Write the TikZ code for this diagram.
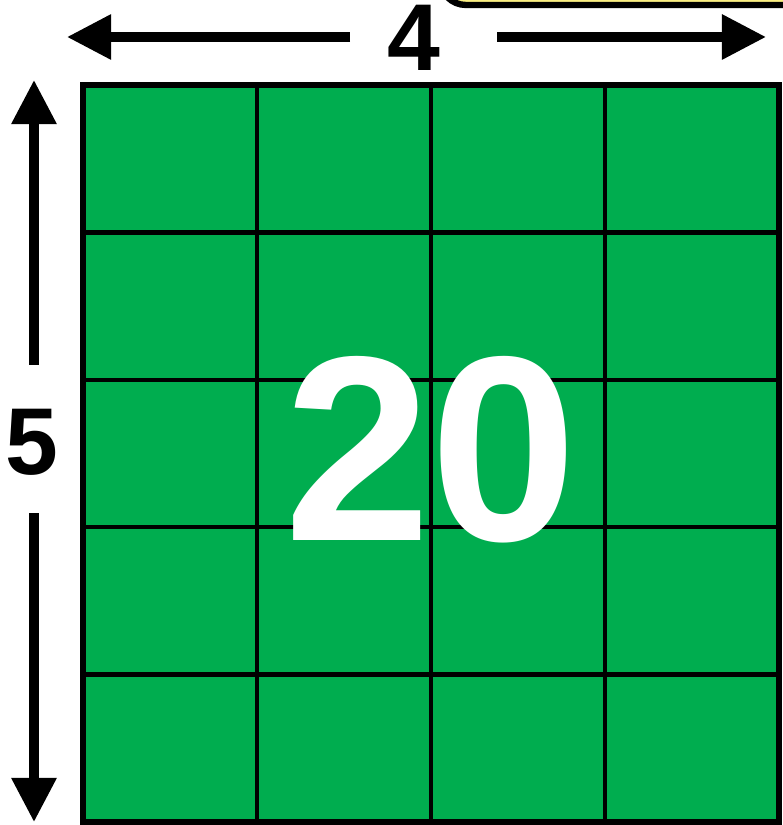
\documentclass[tikz,border=0pt]{standalone}
\usepackage{fontspec}
\setmainfont{Liberation Sans}
\usetikzlibrary{arrows.meta}
\definecolor{gridgreen}{RGB}{0,173,79}
\definecolor{notepale}{RGB}{250,238,130}
\tikzset{
  dimarrow/.style={line width=2.6pt,-{Triangle[length=0.44cm,width=0.43cm]}},
  dimlabel/.style={font=\fontsize{27}{27}\selectfont\bfseries,inner sep=0pt},
  arealabel/.style={font=\fontsize{75}{75}\selectfont\bfseries,text=white,inner sep=0pt}
}
\begin{document}
\begin{tikzpicture}[x=0.01cm,y=-0.01cm]
  \useasboundingbox (0,0) rectangle (783,825);
  % note box, mostly off the page
  \begin{scope}
    \clip (0,0) rectangle (783,825);
    \draw[line width=1.8pt,fill=notepale,rounded corners=0.26cm] (440,-60) rectangle (830,5);
  \end{scope}

  % the 4 x 5 grid
  \fill[gridgreen] (83,85) rectangle (779,822);
  \foreach \i in {0,...,4}{
    \draw[line width=1.3pt] (83+174*\i,85) -- (83+174*\i,822);
  }
  \foreach \j in {0,...,5}{
    \draw[line width=1.3pt] (83,85+147.4*\j) -- (779,85+147.4*\j);
  }
  \draw[line width=1.5pt] (83,85) rectangle (779,822);

  \node[arealabel] (area) at (431,450) {20};

  % width
  \node[dimlabel] (four) at (414,38) {4};
  \coordinate (wl) at (350,37);
  \coordinate (wr) at (497,37);
  \coordinate (wtipl) at (67,37);
  \coordinate (wtipr) at (766,37);
  \draw[dimarrow] (wl) -- (wtipl);
  \draw[dimarrow] (wr) -- (wtipr);

  % height
  \node[dimlabel] (five) at (32,442) {5};
  \coordinate (ht) at (34,365);
  \coordinate (hb) at (34,513);
  \coordinate (htipt) at (34,80);
  \coordinate (htipb) at (34,822);
  \draw[dimarrow] (ht) -- (htipt);
  \draw[dimarrow] (hb) -- (htipb);
\end{tikzpicture}
\end{document}
